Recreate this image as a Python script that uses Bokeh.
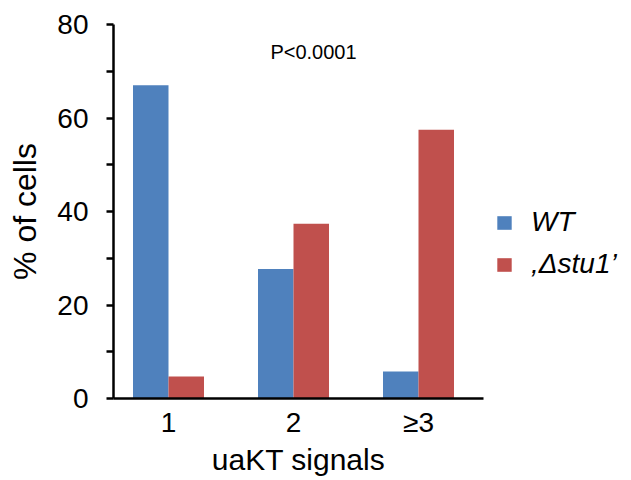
from bokeh.plotting import figure
from bokeh.models import ColumnDataSource, Range1d, FixedTicker, Legend, LegendItem, Label
from bokeh.transform import dodge
from bokeh.embed import file_html
from bokeh.resources import INLINE

# data
groups = [1, 2, 3]
group_labels = ["1", "2", "≥3"]
wt = [67.0, 27.7, 5.8]
stu1 = [4.7, 37.4, 57.5]
series_names = ["WT", ",\u0394stu1\u2019"]
y_ticks = [0, 20, 40, 60, 80]
y_minor = [10, 30, 50, 70]
p_text = "P<0.0001"

BLUE = "#4F81BD"
RED = "#C0504D"
FONT = "Liberation Sans"

src = ColumnDataSource(dict(x=groups, wt=wt, stu1=stu1))

p = figure(frame_width=370, frame_height=374, output_backend="svg", toolbar_location=None,
           x_range=Range1d(0.56, 3.52), y_range=Range1d(0, 80),
           min_border_left=113, min_border_top=24, min_border_right=0, min_border_bottom=66)

bw = 0.284
r1 = p.vbar(x=dodge("x", -bw / 2, range=p.x_range), top="wt", width=bw, source=src,
            fill_color=BLUE, line_color=None)
r2 = p.vbar(x=dodge("x", bw / 2, range=p.x_range), top="stu1", width=bw, source=src,
            fill_color=RED, line_color=None)

p.xgrid.visible = False
p.ygrid.visible = False
p.outline_line_color = None
p.background_fill_color = "white"

# y axis
ya = p.yaxis[0]
ya.ticker = FixedTicker(ticks=y_ticks, minor_ticks=y_minor)
ya.axis_label = "% of cells"
ya.axis_label_text_font = FONT
ya.axis_label_text_font_size = "32px"
ya.axis_label_text_font_style = "normal"
ya.axis_label_text_color = "black"
ya.axis_label_standoff = 11
ya.major_label_text_font = FONT
ya.major_label_text_font_size = "28px"
ya.major_label_text_color = "black"
ya.major_label_standoff = 18
ya.axis_line_width = 2.5
ya.axis_line_color = "black"
ya.major_tick_line_width = 2.5
ya.minor_tick_line_width = 2.5
ya.major_tick_line_color = "black"
ya.minor_tick_line_color = "black"
ya.major_tick_in = 0
ya.major_tick_out = 7
ya.minor_tick_in = 0
ya.minor_tick_out = 7

# x axis
xa = p.xaxis[0]
xa.ticker = FixedTicker(ticks=groups, minor_ticks=[])
xa.major_label_overrides = {g: l for g, l in zip(groups, group_labels)}
xa.axis_label = "uaKT signals"
xa.axis_label_text_font = FONT
xa.axis_label_text_font_size = "30px"
xa.axis_label_text_font_style = "normal"
xa.axis_label_text_color = "black"
xa.axis_label_standoff = 2
xa.major_label_text_font = FONT
xa.major_label_text_font_size = "28px"
xa.major_label_text_color = "black"
xa.major_label_standoff = 8
xa.axis_line_width = 2.5
xa.axis_line_color = "black"
xa.major_tick_line_color = None
xa.minor_tick_line_color = None
xa.major_tick_out = 0
xa.major_tick_in = 0

# p-value annotation
p.add_layout(Label(x=2.16, y=74.2, text=p_text, text_align="center",
                   text_baseline="alphabetic", text_font=FONT,
                   text_font_size="20px", text_color="black"))

legend = Legend(items=[LegendItem(label=series_names[0], renderers=[r1]),
                       LegendItem(label=series_names[1], renderers=[r2])],
                location=(12, 118), border_line_color=None, background_fill_alpha=0,
                label_text_font=FONT, label_text_font_size="28px",
                label_text_font_style="italic", label_text_color="black",
                glyph_width=18, glyph_height=17, spacing=10, padding=0, margin=0,
                label_standoff=18)
p.add_layout(legend, "right")

open("out.html", "w").write(file_html(p, INLINE))
